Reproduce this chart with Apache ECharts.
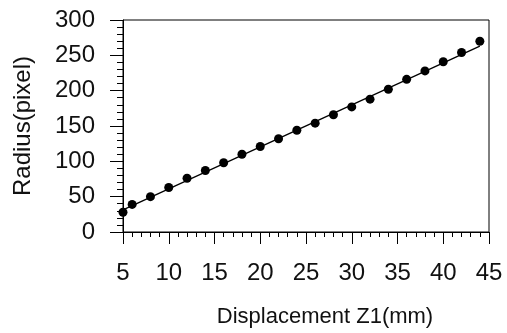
<!DOCTYPE html>
<html>
<head>
<meta charset="utf-8">
<script src="https://cdn.jsdelivr.net/npm/echarts@6/dist/echarts.min.js"></script>
<style>
  html, body { margin: 0; padding: 0; background: #fff; }
  #chart { width: 507px; height: 333px; }
</style>
</head>
<body>
<div id="chart"></div>
<script>
// measured points
const displacement = [5, 6, 8, 10, 12, 14, 16, 18, 20, 22, 24, 26, 28, 30, 32, 34, 36, 38, 40, 42, 44]
const radius = [28, 39, 50, 63, 76, 87, 98, 110, 121, 132, 144, 154, 166, 177, 188, 202, 216, 228, 241, 254, 270]
// fitted line end points
const fitX = [5, 44]
const fitY = [31.4, 263]

const font = 'Liberation Sans, Arial, sans-serif'
const ink = '#000'

const myChart = echarts.init(document.getElementById('chart'))
const option = {
  animation: false,
  grid: {
    left: 123,
    right: 18,
    top: 20,
    bottom: 97,
    show: true,
    borderColor: ink,
    borderWidth: 1
  },
  xAxis: {
    type: 'value',
    min: 5,
    max: 45,
    interval: 5,
    name: 'Displacement Z1(mm)',
    nameLocation: 'middle',
    nameGap: 74,
    nameTextStyle: {
      fontFamily: font,
      fontSize: 22,
      color: '#111',
      verticalAlign: 'top',
      padding: [0, 0, 0, 38]
    },
    axisLine: { lineStyle: { color: ink, width: 1 } },
    axisTick: { show: true, inside: false, length: 12, lineStyle: { color: ink } },
    minorTick: { show: true, splitNumber: 5, length: 5, lineStyle: { color: ink } },
    axisLabel: { margin: 29, fontFamily: font, fontSize: 24, color: '#111' },
    splitLine: { show: false }
  },
  yAxis: {
    type: 'value',
    min: 0,
    max: 300,
    interval: 50,
    name: 'Radius(pixel)',
    nameLocation: 'middle',
    nameGap: 88,
    nameTextStyle: { fontFamily: font, fontSize: 24, color: '#111' },
    axisLine: { lineStyle: { color: ink, width: 1 } },
    axisTick: { show: true, inside: false, length: 13, lineStyle: { color: ink } },
    minorTick: { show: true, splitNumber: 5, length: 6, lineStyle: { color: ink } },
    axisLabel: { margin: 28, fontFamily: font, fontSize: 24, color: '#111' },
    splitLine: { show: false }
  },
  series: [
    {
      type: 'line',
      data: fitX.map((x, i) => [x, fitY[i]]),
      showSymbol: false,
      lineStyle: { color: ink, width: 1.3 },
      z: 1
    },
    {
      type: 'scatter',
      data: displacement.map((x, i) => [x, radius[i]]),
      symbol: 'circle',
      symbolSize: 9,
      itemStyle: { color: ink, opacity: 1 },
      z: 2
    }
  ]
}
myChart.setOption(option)
</script>
</body>
</html>
